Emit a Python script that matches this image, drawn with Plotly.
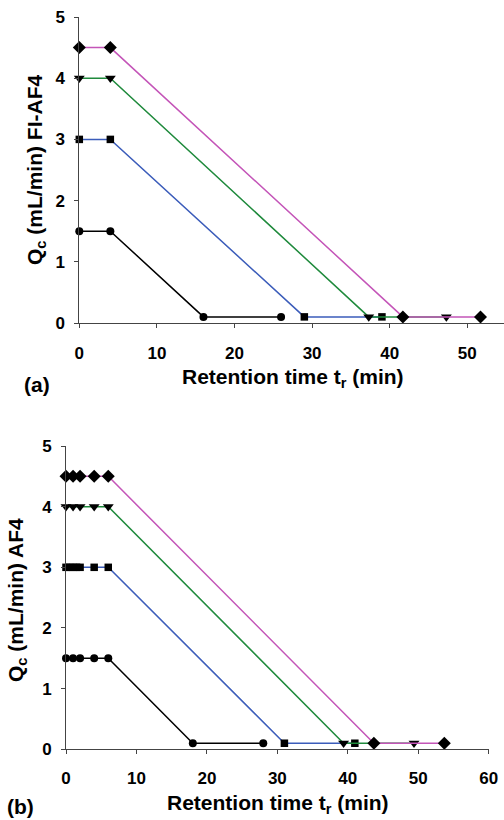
import plotly.graph_objects as go

# Panel (a): FI-AF4 cross-flow programmes
a_x_15 = [0, 4, 16, 26]
a_y_15 = [1.5, 1.5, 0.1, 0.1]
a_x_30 = [0, 4, 29, 39]
a_y_30 = [3, 3, 0.1, 0.1]
a_x_40 = [0, 4, 37.3, 47.3]
a_y_40 = [4, 4, 0.1, 0.1]
a_x_45 = [0, 4, 41.7, 51.7]
a_y_45 = [4.5, 4.5, 0.1, 0.1]

# Panel (b): AF4 cross-flow programmes
b_x_15 = [0, 1, 2, 4, 6, 18, 28]
b_y_15 = [1.5, 1.5, 1.5, 1.5, 1.5, 0.1, 0.1]
b_x_30 = [0, 0.5, 1, 1.5, 2, 4, 6, 31, 41]
b_y_30 = [3, 3, 3, 3, 3, 3, 3, 0.1, 0.1]
b_x_40 = [0, 1, 2, 4, 6, 39.4, 49.4]
b_y_40 = [4, 4, 4, 4, 4, 0.1, 0.1]
b_x_45 = [0, 1, 2, 4, 6, 43.7, 53.7]
b_y_45 = [4.5, 4.5, 4.5, 4.5, 4.5, 0.1, 0.1]

# tick labels
a_xticks = [0, 10, 20, 30, 40, 50]
b_xticks = [0, 10, 20, 30, 40, 50, 60]
yticks = [0, 1, 2, 3, 4, 5]

FONT = "Arial, Liberation Sans, sans-serif"
W, H = 504, 820

series_style = [
    ("#000000", "circle", 8),
    ("#3B5CBA", "square", 7.5),
    ("#1F8A3C", "triangle-down", 9.5),
    ("#C455B8", "diamond", 10),
]

fig = go.Figure()

panel_a = [(a_x_15, a_y_15), (a_x_30, a_y_30), (a_x_40, a_y_40), (a_x_45, a_y_45)]
panel_b = [(b_x_15, b_y_15), (b_x_30, b_y_30), (b_x_40, b_y_40), (b_x_45, b_y_45)]

for (xs, ys), (col, sym, sz) in zip(panel_a, series_style):
    fig.add_trace(go.Scatter(
        x=xs, y=ys, mode="lines+markers", xaxis="x", yaxis="y",
        line=dict(color=col, width=1.5),
        marker=dict(symbol=sym, size=sz, color="black"),
        cliponaxis=False, showlegend=False))

for (xs, ys), (col, sym, sz) in zip(panel_b, series_style):
    fig.add_trace(go.Scatter(
        x=xs, y=ys, mode="lines+markers", xaxis="x2", yaxis="y2",
        line=dict(color=col, width=1.5),
        marker=dict(symbol=sym, size=sz, color="black"),
        cliponaxis=False, showlegend=False))


def bold_ticks(vals):
    return dict(tickvals=vals, ticktext=[f"<b>{v}</b>" for v in vals])


tickfont = dict(family=FONT, size=17, color="black")
axis_common = dict(
    showgrid=False, zeroline=False, showline=True, linecolor="#444444",
    linewidth=1, ticks="outside", ticklen=4, tickcolor="#444444",
    tickfont=tickfont, automargin=False,
)

# pixel positions of the plot areas
a_left, a_right, a_top, a_bottom = 79.3, 504.0, 17.0, 323.0
b_left, b_right, b_top, b_bottom = 66.0, 488.7, 446.0, 749.3
a_xmax = (a_right - a_left) / 7.76

fig.update_layout(
    template="none",
    width=W, height=H,
    margin=dict(l=0, r=0, t=0, b=0, pad=0),
    plot_bgcolor="white", paper_bgcolor="white",
    font=dict(family=FONT, color="black"),
    xaxis=dict(axis_common, domain=[a_left / W, a_right / W], range=[0, a_xmax],
               anchor="y", ticklabelstandoff=11, **bold_ticks(a_xticks)),
    yaxis=dict(axis_common, domain=[1 - a_bottom / H, 1 - a_top / H], range=[0, 5],
               anchor="x", ticklabelstandoff=6, **bold_ticks(yticks)),
    xaxis2=dict(axis_common, domain=[b_left / W, b_right / W], range=[0, 60],
                anchor="y2", ticklabelstandoff=9, **bold_ticks(b_xticks)),
    yaxis2=dict(axis_common, domain=[1 - b_bottom / H, 1 - b_top / H], range=[0, 5],
                anchor="x2", ticklabelstandoff=6, **bold_ticks(yticks)),
)

title_font = dict(family=FONT, size=21, color="black")
notes = [
    # x titles
    dict(text="<b>Retention time t<sub>r</sub> (min)</b>", x=293 / W, y=1 - 378 / H),
    dict(text="<b>Retention time t<sub>r</sub> (min)</b>", x=278 / W, y=1 - 804 / H),
    # y titles
    dict(text="<b>Q<sub>c</sub> (mL/min) FI-AF4</b>", x=36 / W, y=1 - 170 / H, textangle=-90),
    dict(text="<b>Q<sub>c</sub> (mL/min) AF4</b>", x=17 / W, y=1 - 600 / H, textangle=-90),
    # panel labels
    dict(text="<b>(a)</b>", x=37 / W, y=1 - 384 / H),
    dict(text="<b>(b)</b>", x=20 / W, y=1 - 806 / H),
]
for n in notes:
    fig.add_annotation(
        xref="paper", yref="paper", showarrow=False,
        xanchor="center", yanchor="middle", font=title_font, **n)

fig.write_html("out.html")
